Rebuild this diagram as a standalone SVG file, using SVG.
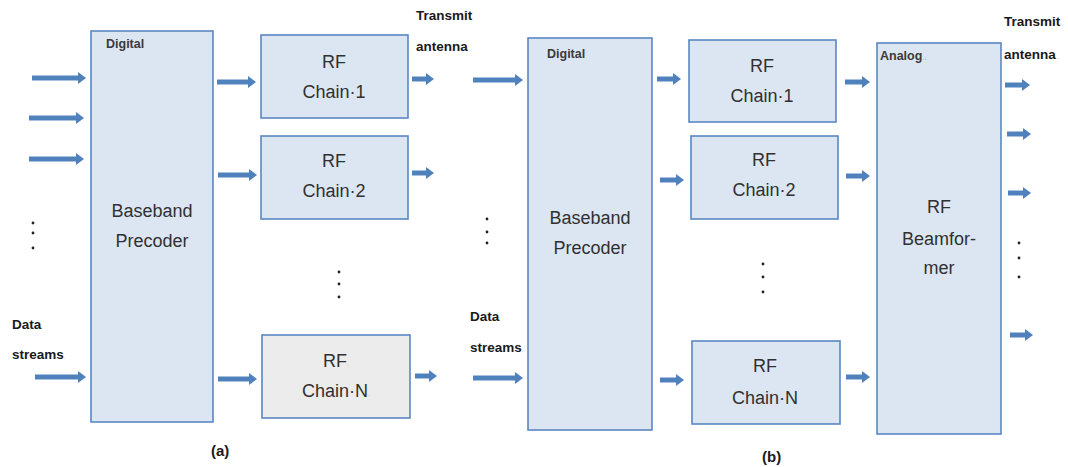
<svg xmlns="http://www.w3.org/2000/svg" width="1068" height="467" viewBox="0 0 1068 467">
  <style>
    .box { fill: #dce6f2; stroke: #5a88c2; stroke-width: 1.6; }
    .box.gray { fill: #ececec; }
    .blk { font-family: "Liberation Sans", Arial, sans-serif; font-size: 18px; fill: #303030; text-anchor: middle; }
    .tag { font-family: "Liberation Sans", Arial, sans-serif; font-size: 12.5px; font-weight: bold; fill: #3a3a3a; }
    .lbl { font-family: "Liberation Sans", Arial, sans-serif; font-size: 13.5px; font-weight: bold; fill: #1a1a1a; }
    .cap { font-size: 15px; }
    .pm { font-size: 6px; fill: #9a9a9a; font-weight: normal; }
    .arrow { stroke: #4f81bd; stroke-width: 5; fill: none; marker-end: url(#head); }
    .dot { fill: #222; }
  </style>
  <defs>
    <marker id="head" markerUnits="userSpaceOnUse" viewBox="0 0 8 12" refX="0" refY="6" markerWidth="8" markerHeight="12" orient="auto">
      <path d="M0,0 L8,6 L0,12 Z" fill="#4f81bd"/>
    </marker>
  </defs>
  <rect width="1068" height="467" fill="#ffffff"/>

  <!-- (a) fully digital precoding -->
  <g id="precoder-a">
    <rect class="box" x="91" y="31" width="122" height="391"/>
    <text class="tag" x="106" y="48">Digital</text>
    <text class="blk" x="152" y="217">Baseband</text>
    <text class="blk" x="152" y="247">Precoder</text>
  </g>
  <g id="rf1-a">
    <rect class="box" x="261" y="35" width="147" height="83"/>
    <text class="blk" x="334" y="68">RF</text>
    <text class="blk" x="334" y="98">Chain·1</text>
  </g>
  <g id="rf2-a">
    <rect class="box" x="261" y="136" width="147" height="83"/>
    <text class="blk" x="334" y="167">RF</text>
    <text class="blk" x="334" y="197">Chain·2</text>
  </g>
  <g id="rfN-a">
    <rect class="box gray" x="262" y="335" width="148" height="83"/>
    <text class="blk" x="336" y="367">RF<tspan class="pm">·</tspan></text>
    <text class="blk" x="336" y="397">Chain·N<tspan class="pm">·</tspan></text>
  </g>
  <g id="labels-a">
    <text class="lbl" x="416" y="20">Transmit</text>
    <text class="lbl" x="416" y="51">antenna</text>
    <text class="lbl" x="12" y="329">Data<tspan class="pm">.</tspan></text>
    <text class="lbl" x="12" y="359">streams<tspan class="pm">.</tspan></text>
    <text class="lbl cap" x="211" y="456">(a)<tspan class="pm">.</tspan></text>
    <circle class="dot" cx="33" cy="223" r="1.4"/>
    <circle class="dot" cx="33" cy="233" r="1.4"/>
    <circle class="dot" cx="33" cy="248" r="1.4"/>
    <circle class="dot" cx="339" cy="272" r="1.4"/>
    <circle class="dot" cx="339" cy="284" r="1.4"/>
    <circle class="dot" cx="339" cy="297" r="1.4"/>
  </g>

  <!-- (b) hybrid precoding -->
  <g id="precoder-b">
    <rect class="box" x="528" y="38" width="124" height="392"/>
    <text class="tag" x="547" y="58">Digital</text>
    <text class="blk" x="590" y="224">Baseband</text>
    <text class="blk" x="590" y="254">Precoder</text>
  </g>
  <g id="rf1-b">
    <rect class="box" x="689" y="40" width="147" height="82"/>
    <text class="blk" x="762" y="72">RF</text>
    <text class="blk" x="762" y="102">Chain·1</text>
  </g>
  <g id="rf2-b">
    <rect class="box" x="691" y="136" width="147" height="83"/>
    <text class="blk" x="764" y="166">RF</text>
    <text class="blk" x="764" y="196">Chain·2</text>
  </g>
  <g id="rfN-b">
    <rect class="box" x="692" y="341" width="148" height="83"/>
    <text class="blk" x="765" y="372">RF</text>
    <text class="blk" x="765" y="404">Chain·N</text>
  </g>
  <g id="beamformer-b">
    <rect class="box" x="877" y="43" width="124" height="391"/>
    <text class="tag" x="880" y="60">Analog<tspan class="pm">.↓</tspan></text>
    <text class="blk" x="939" y="213">RF</text>
    <text class="blk" x="939" y="245">Beamfor-</text>
    <text class="blk" x="939" y="274">mer</text>
  </g>
  <g id="labels-b">
    <text class="lbl" x="1004" y="26">Transmit<tspan class="pm">.</tspan></text>
    <text class="lbl" x="1004" y="59">antenna<tspan class="pm">..</tspan></text>
    <text class="lbl" x="470" y="321">Data<tspan class="pm">.</tspan></text>
    <text class="lbl" x="470" y="352">streams<tspan class="pm">..</tspan></text>
    <text class="lbl cap" x="762" y="462">(b)<tspan class="pm">.</tspan></text>
    <circle class="dot" cx="487" cy="219" r="1.4"/>
    <circle class="dot" cx="487" cy="232" r="1.4"/>
    <circle class="dot" cx="487" cy="243" r="1.4"/>
    <circle class="dot" cx="763" cy="264" r="1.4"/>
    <circle class="dot" cx="763" cy="277" r="1.4"/>
    <circle class="dot" cx="763" cy="292" r="1.4"/>
    <circle class="dot" cx="1019" cy="243" r="1.4"/>
    <circle class="dot" cx="1019" cy="258" r="1.4"/>
    <circle class="dot" cx="1019" cy="277" r="1.4"/>
  </g>

  <g id="connectors">
    <!-- (a) streams into the precoder -->
    <line class="arrow" x1="32" y1="78" x2="78" y2="78"/>
    <line class="arrow" x1="29" y1="118" x2="76" y2="118"/>
    <line class="arrow" x1="29" y1="159" x2="76" y2="159"/>
    <line class="arrow" x1="35" y1="377" x2="78" y2="377"/>
    <!-- (a) precoder to RF chains -->
    <line class="arrow" x1="217" y1="82" x2="248" y2="82"/>
    <line class="arrow" x1="218" y1="175" x2="249" y2="175"/>
    <line class="arrow" x1="218" y1="379" x2="249" y2="379"/>
    <!-- (a) RF chains to antennas -->
    <line class="arrow" x1="412" y1="79" x2="426" y2="79"/>
    <line class="arrow" x1="412" y1="173" x2="426" y2="173"/>
    <line class="arrow" x1="415" y1="376" x2="429" y2="376"/>
    <!-- (b) streams into the precoder -->
    <line class="arrow" x1="473" y1="80" x2="515" y2="80"/>
    <line class="arrow" x1="473" y1="378" x2="515" y2="378"/>
    <!-- (b) precoder to RF chains -->
    <line class="arrow" x1="657" y1="79" x2="673" y2="79"/>
    <line class="arrow" x1="660" y1="180" x2="676" y2="180"/>
    <line class="arrow" x1="660" y1="380" x2="676" y2="380"/>
    <!-- (b) RF chains to the beamformer -->
    <line class="arrow" x1="845" y1="82" x2="862" y2="82"/>
    <line class="arrow" x1="846" y1="176" x2="862" y2="176"/>
    <line class="arrow" x1="846" y1="377" x2="862" y2="377"/>
    <!-- (b) beamformer to antennas -->
    <line class="arrow" x1="1005" y1="85" x2="1022" y2="85"/>
    <line class="arrow" x1="1007" y1="134" x2="1023" y2="134"/>
    <line class="arrow" x1="1008" y1="193" x2="1023" y2="193"/>
    <line class="arrow" x1="1010" y1="335" x2="1025" y2="335"/>
  </g>
</svg>
